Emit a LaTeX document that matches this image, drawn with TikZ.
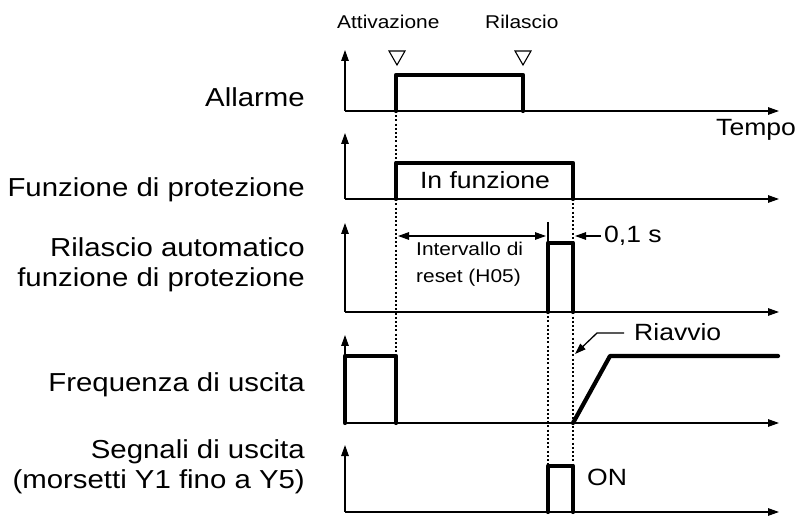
\documentclass[tikz,border=0pt]{standalone}
\usepackage{fontspec}
\setmainfont{Liberation Sans}[FakeStretch=1.13]
\usetikzlibrary{arrows.meta}
\tikzset{
  tip/.tip={Triangle[length=11pt,width=7.5pt]},
  axis/.style={line width=1.3pt,-tip},
  sig/.style={line width=4.2pt,line join=round,line cap=round},
  guide/.style={line width=1.2pt,dash pattern=on 2pt off 2.2pt},
  dim/.style={line width=1.3pt,tip-tip},
  lead/.style={line width=1.3pt,-tip},
  lab/.style={font=\fontsize{26}{30}\selectfont,align=right,anchor=east,inner sep=0pt},
  mid/.style={font=\fontsize{23.5}{27}\selectfont,inner sep=0pt},
  small/.style={font=\fontsize{18.5}{27}\selectfont,inner sep=0pt},
  tri/.style={line width=1.1pt,line join=miter}
}
\begin{document}
\begin{tikzpicture}[x=1pt,y=-1pt]
\useasboundingbox (0,0) rectangle (800,518);
% guide lines
\draw[guide] (396,111) -- (396,356);
\draw[guide] (548,312) -- (548,466);
\draw[guide] (573,199) -- (573,466);
% axes
\foreach \b/\t in {111/50,199/133,312/223,423/335,512/445}{
  \draw[axis] (345,\b) -- (345,\t);
  \draw[axis] (345,\b) -- (779,\b);
}
% signals
\draw[sig] (396,111) -- (396,75) -- (523,75) -- (523,111);
\draw[sig] (396,199) -- (396,163) -- (573,163) -- (573,199);
\draw[sig] (548,312) -- (548,243) -- (573,243) -- (573,312);
\draw[sig] (345,423) -- (345,356) -- (396,356) -- (396,423);
\draw[sig] (573,423) -- (610,356) -- (778,356);
\draw[sig] (548,512) -- (548,466) -- (573,466) -- (573,512);
% triangle markers
\draw[tri] (389,51) -- (405,51) -- (397,65) -- cycle;
\draw[tri] (515,51) -- (531,51) -- (523,65) -- cycle;
% dimension
\draw[line width=1.3pt] (548,222) -- (548,243);
\coordinate (d1) at (398,236);
\coordinate (d2) at (546,236);
\draw[dim] (d1) -- (d2);
\coordinate (s1) at (601,236);
\coordinate (s2) at (575,236);
\draw[lead] (s1) -- (s2);
\coordinate (r1) at (624,333);
\coordinate (r2) at (597,333);
\coordinate (r3) at (575,354);
\draw[lead] (r1) -- (r2) -- (r3);
% texts
\node[small,anchor=west] (att) at (337,22) {Attivazione};
\node[small,anchor=west] (ril) at (485,22) {Rilascio};
\node[mid,anchor=west] (tempo) at (716,130) {Tempo};
\node[mid] (infz) at (485,180) {In funzione};
\node[small,anchor=west,align=left] (int) at (416,264) {Intervallo di\\reset (H05)};
\node[mid,anchor=west] (zero) at (604,236) {0,1 s};
\node[mid,anchor=west] (riav) at (634,332) {Riavvio};
\node[mid,anchor=west] (on) at (587,477) {ON};
\node[lab] (l1) at (305,97) {Allarme};
\node[lab] (l2) at (305,190) {Funzione di protezione};
\node[lab] (l3) at (305,265) {Rilascio automatico\\funzione di protezione};
\node[lab] (l4) at (305,385) {Frequenza di uscita};
\node[lab] (l5) at (305,467) {Segnali di uscita\\(morsetti Y1 fino a Y5)};
\end{tikzpicture}
\end{document}
